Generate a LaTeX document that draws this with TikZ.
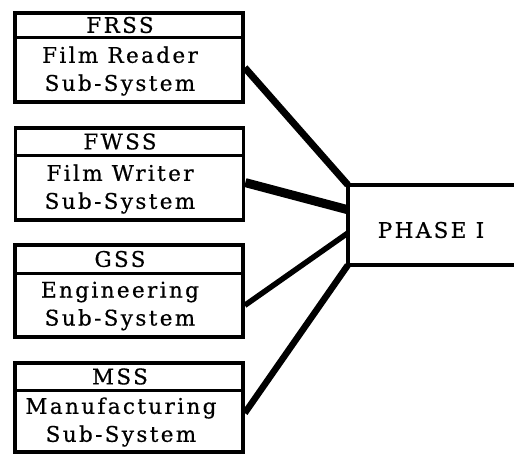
\documentclass[tikz,border=0pt]{standalone}
\usepackage{fontspec}
\setmainfont{DejaVu Serif}[LetterSpace=11,FakeBold=0.6]
\usetikzlibrary{calc}
\begin{document}
\begin{tikzpicture}[x=1pt,y=-1pt,
  sub/.style={draw,line width=3.6pt,minimum width=228pt,inner sep=0pt},
  txt/.style={font=\fontsize{21.5}{28}\selectfont,align=center,inner sep=0pt},
  conn/.style={line width=#1,line cap=butt,line join=miter},
  conn/.default=6pt]
\useasboundingbox (0,0) rectangle (514,453);
% sub-system boxes
\node[sub,minimum height=89pt] (b1) at (129,57.5) {};
\node[sub,minimum height=92pt] (b2) at (129.5,174) {};
\node[sub,minimum height=92pt] (b3) at (129,291) {};
\node[sub,minimum height=89pt] (b4) at (129,407.5) {};
% dividers
\draw[line width=3pt] (b1.west |- 0,37) -- (b1.east |- 0,37);
\draw[line width=3pt] (b2.west |- 0,155) -- (b2.east |- 0,155);
\draw[line width=3pt] (b3.west |- 0,273) -- (b3.east |- 0,273);
\draw[line width=3pt] (b4.west |- 0,390) -- (b4.east |- 0,390);
% texts
\node[txt] (h1) at (120,25) {FRSS};
\node[txt] (t1) at (120,71) {Film Reader\\Sub-System};
\node[txt] (h2) at (120,141.5) {FWSS};
\node[txt] (t2) at (120,189) {Film Writer\\Sub-System};
\node[txt] (h3) at (120,259) {GSS};
\node[txt] (t3) at (120,306) {Engineering\\Sub-System};
\node[txt] (h4) at (120,376.5) {MSS};
\node[txt] (t4) at (121,422) {Manufacturing\\Sub-System};
% phase box (open on the right)
\node[minimum width=170pt,minimum height=80pt,inner sep=0pt] (ph) at (433,225) {};
\node[txt] (pt) at (431,230) {PHASE I};
\draw[line width=3.6pt] ($(ph.north east)+(5,0)$) -- (ph.north west) -- (ph.south west) -- ($(ph.south east)+(5,0)$);
% connectors
\coordinate (e1) at ($(b1.north east)!0.61!(b1.south east)$);
\coordinate (e2) at ($(b2.north east)!0.59!(b2.south east)$);
\coordinate (e3) at ($(b3.north east)!0.65!(b3.south east)$);
\coordinate (e4) at ($(b4.north east)!0.56!(b4.south east)$);
\coordinate (p2) at ($(ph.north west)!0.31!(ph.south west)$);
\coordinate (p3) at ($(ph.north west)!0.60!(ph.south west)$);
\draw[conn=7pt] (e1) -- (ph.north west);
\draw[conn=9pt] (e2) -- (p2);
\draw[conn=5.5pt] (e3) -- (p3);
\draw[conn=6.5pt] (e4) -- (ph.south west);
\end{tikzpicture}
\end{document}
